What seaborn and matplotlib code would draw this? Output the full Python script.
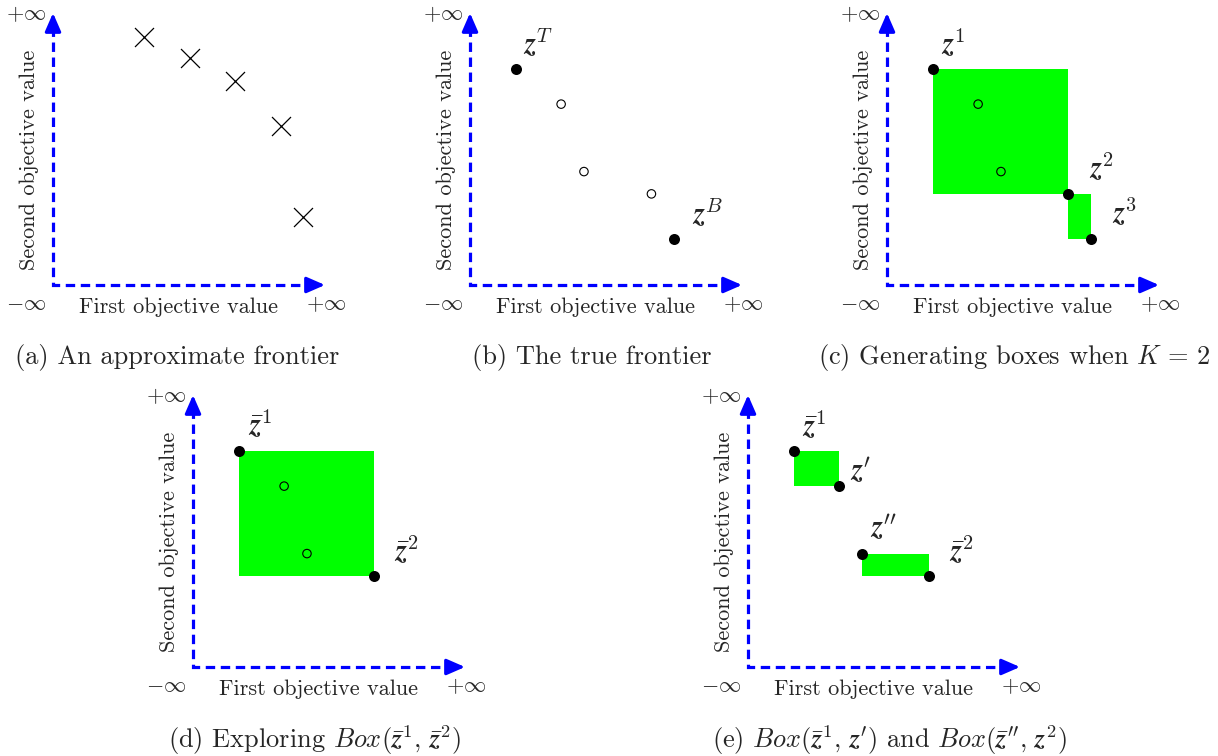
import io

import matplotlib
matplotlib.use("Agg")
import matplotlib.pyplot as plt
from matplotlib import mathtext
from matplotlib.font_manager import FontProperties
import seaborn as sns

sns.set_theme(style="white")
plt.rcParams["font.family"] = ["cmr10"]
plt.rcParams["mathtext.fontset"] = "cm"
plt.rcParams["axes.formatter.use_mathtext"] = True

# ---- data -------------------------------------------------------------
# approximate frontier (panel a)
approx_x = [3.35, 5.04, 6.69, 8.38, 9.19]
approx_y = [9.12, 8.35, 7.50, 5.85, 2.50]

# true frontier points shared by panels b-e
front_x = [1.69, 3.35, 4.19, 6.67, 7.50]
front_y = [7.94, 6.65, 4.17, 3.35, 1.69]

captions = [
    "(a) An approximate frontier",
    "(b) The true frontier",
    r"(c) Generating boxes when $K\,=\,2$",
    None,  # built below (needs the z symbol)
    None,
]


def _bold_italic_z():
    try:
        buf = io.BytesIO()
        mathtext.math_to_image(r"$\mathbfit{z}$", buf,
                               prop=FontProperties(math_fontfamily="cm"),
                               format="png")
        return r"\mathbfit{z}"
    except Exception:
        return r"\mathbf{z}"


Z = _bold_italic_z()
ZB = r"\bar{" + Z + "}"
captions[3] = "(d) Exploring $Box(" + ZB + "^1,\\," + ZB + "^2)$"
captions[4] = ("(e) $Box(" + ZB + "^1,\\," + Z + "')$ and $Box(" + ZB
               + "'',\\," + Z + "^2)$")

# ---- layout -----------------------------------------------------------
W, H = 1218, 756
SIDE = 272
fig = plt.figure(figsize=(W / 100, H / 100), dpi=100)
fig.patch.set_facecolor("white")

BLUE = "#0000ff"
GREEN = "#00ff00"
LW_AX = 2.3


def make_panel(ox, oy):
    ax = fig.add_axes([ox / W, (H - oy) / H, SIDE / W, SIDE / H])
    ax.set_xlim(0, 10)
    ax.set_ylim(0, 10)
    ax.axis("off")
    # dashed L-shaped axes
    ax.plot([0, 0, 9.5], [9.5, 0, 0], color=BLUE, lw=LW_AX,
            ls=(0, (2.95, 1.75)), dash_capstyle="butt",
            dash_joinstyle="miter", clip_on=False, zorder=2)
    for tip, tail in [((10, 0), (9.4, 0)), ((0, 10), (0, 9.4))]:
        ax.annotate("", xy=tip, xytext=tail, annotation_clip=False,
                    arrowprops=dict(arrowstyle="-|>,head_length=0.55,head_width=0.24",
                                    color=BLUE, lw=LW_AX, mutation_scale=20,
                                    shrinkA=0, shrinkB=0))
    fs = 16
    ax.text(-0.99, -0.70, r"$-\infty$", ha="center", va="center", fontsize=fs)
    ax.text(10.04, -0.70, r"$+\infty$", ha="center", va="center", fontsize=fs)
    ax.text(-0.99, 9.94, r"$+\infty$", ha="center", va="center", fontsize=fs)
    ax.text(4.6, -1.03, "First objective value", ha="center", va="baseline",
            fontsize=fs)
    ax.text(-0.88, 4.6, "Second objective value", ha="center", va="center",
            rotation=90, fontsize=fs)
    return ax


def box(ax, i, j):
    ax.fill_between([front_x[i], front_x[j]], front_y[j], front_y[i],
                    color=GREEN, lw=0, zorder=1)


def dots(ax, idx, filled=True):
    xs = [front_x[k] for k in idx]
    ys = [front_y[k] for k in idx]
    if filled:
        sns.scatterplot(x=xs, y=ys, ax=ax, s=63, color="black",
                        edgecolor="black", linewidth=0, clip_on=False, zorder=4)
    else:
        sns.scatterplot(x=xs, y=ys, ax=ax, s=37, facecolor="none",
                        edgecolor="black", linewidth=0.8, clip_on=False,
                        zorder=4)


def label(ax, k, text, dx, dy):
    ax.annotate("$" + text + "$", xy=(front_x[k], front_y[k]),
                xytext=(dx * 0.72, dy * 0.72), textcoords="offset points",
                ha="left", va="bottom", fontsize=21, annotation_clip=False)


def caption(cx, base, text):
    fig.text(cx / W, (H - base) / H, text, ha="center", va="baseline",
             fontsize=19)


# (a) approximate frontier
ax = make_panel(53, 285)
sns.scatterplot(x=approx_x, y=approx_y, ax=ax, marker="x", s=187,
                color="black", linewidth=0.9, clip_on=False, zorder=4)
caption(177, 364, captions[0])

# (b) true frontier
ax = make_panel(470, 285)
dots(ax, [0, 4])
dots(ax, [1, 2, 3], filled=False)
label(ax, 0, Z + "^T", 7, 9)
label(ax, 4, Z + "^B", 18, 9)
caption(592, 364, captions[1])

# (c) boxes for K = 2
ax = make_panel(887, 285)
box(ax, 0, 3)
box(ax, 3, 4)
dots(ax, [0, 3, 4])
dots(ax, [1, 2], filled=False)
label(ax, 0, Z + "^1", 8, 9)
label(ax, 3, Z + "^2", 21, 10)
label(ax, 4, Z + "^3", 21, 10)
caption(1014, 364, captions[2])

# (d) exploring one box
ax = make_panel(193, 667)
box(ax, 0, 3)
dots(ax, [0, 3])
dots(ax, [1, 2], filled=False)
label(ax, 0, ZB + "^1", 9, 10)
label(ax, 3, ZB + "^2", 20, 9)
caption(315, 748, captions[3])

# (e) split boxes
ax = make_panel(748, 667)
box(ax, 0, 1)
box(ax, 2, 3)
dots(ax, [0, 1, 2, 3])
label(ax, 0, ZB + "^1", 8, 9)
label(ax, 1, Z + "'", 11, 0)
label(ax, 2, Z + "''", 8, 11)
label(ax, 3, ZB + "^2", 20, 9)
caption(889, 748, captions[4])

fig.savefig("out.png", dpi=100, facecolor="white")
